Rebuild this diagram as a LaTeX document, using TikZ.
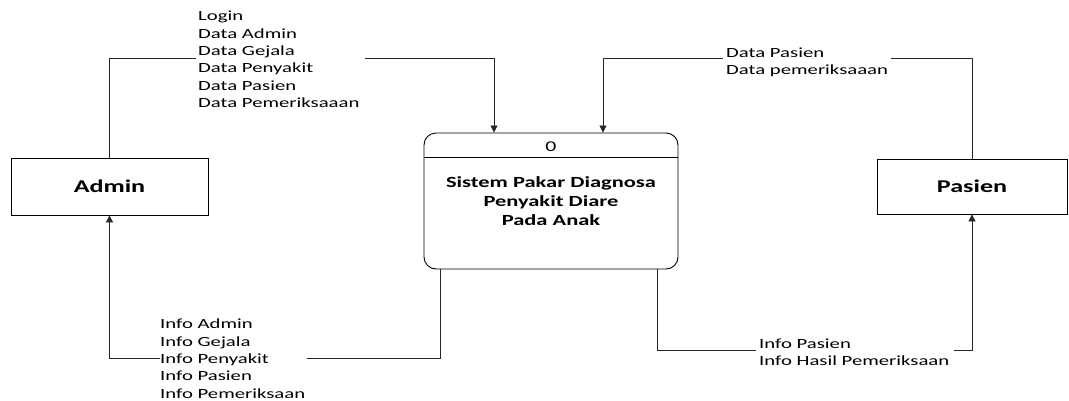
\documentclass[tikz,border=0pt]{standalone}
\usepackage{fontspec}
\usetikzlibrary{arrows.meta}
\newfontfamily\lblfont[FakeStretch=1.48]{Carlito}
\newfontfamily\idfont[FakeStretch=1.45]{Carlito}
\newfontfamily\lblbold[FakeStretch=1.45]{Carlito Bold}
\tikzset{
  ext/.style={draw, line width=0.8pt, font=\lblbold\fontsize{18}{20}\selectfont, inner sep=0pt},
  proc/.style={draw, line width=0.9pt, rounded corners=12pt, inner sep=0pt},
  flow/.style={line width=0.8pt, draw=black!85, -{Triangle[width=7pt,length=7pt]}},
  lbl/.style={fill=white, align=left, inner ysep=0pt, font=\lblfont\fontsize{14}{17.3}\selectfont, anchor=north west}
}
\begin{document}
\begin{tikzpicture}[x=1pt,y=-1pt]
\useasboundingbox (0,0) rectangle (1069,400);
\node[ext, minimum width=197pt, minimum height=57pt] (admin) at (109.5,186.5) {Admin};
\node[ext, minimum width=190pt, minimum height=55pt] (pasien) at (972,186.5) {Pasien};
\node[proc, minimum width=254pt, minimum height=136pt] (proc) at (551,201) {};
\draw[line width=0.9pt] ([yshift=-25pt]proc.north west) -- ([yshift=-25pt]proc.north east);
\node[font=\idfont\fontsize{15}{18}\selectfont] (pid) at (551,147) {0};
\node[font=\lblbold\fontsize{15.5}{19}\selectfont, align=center] (ptitle) at (551,201.5) {Sistem Pakar Diagnosa\\Penyakit Diare\\Pada Anak};

\draw[flow] (admin.north) -- ++(0,-99) -| ([xshift=-57pt]proc.north);
\draw[flow] (pasien.north) -- ++(0,-100) -| ([xshift=52pt]proc.north);
\draw[flow] ([xshift=-111pt]proc.south) -- ++(0,89) -| (admin.south);
\draw[flow] ([xshift=106pt]proc.south) -- ++(0,81) -| (pasien.south);

\node[lbl, inner xsep=2pt, text width=165pt] (l1) at (196,11) {Login\\Data Admin\\Data Gejala\\Data Penyakit\\Data Pasien\\Data Pemeriksaaan};
\node[lbl, inner xsep=3pt, text width=162pt] (l2) at (723,47.5) {Data Pasien\\Data pemeriksaaan};
\node[lbl, inner xsep=0pt, text width=147pt] (l3) at (160,319) {Info Admin\\Info Gejala\\Info Penyakit\\Info Pasien\\Info Pemeriksaan};
\node[lbl, inner xsep=3pt, text width=192pt] (l4) at (756,338.5) {Info Pasien\\Info Hasil Pemeriksaan};
\end{tikzpicture}
\end{document}
